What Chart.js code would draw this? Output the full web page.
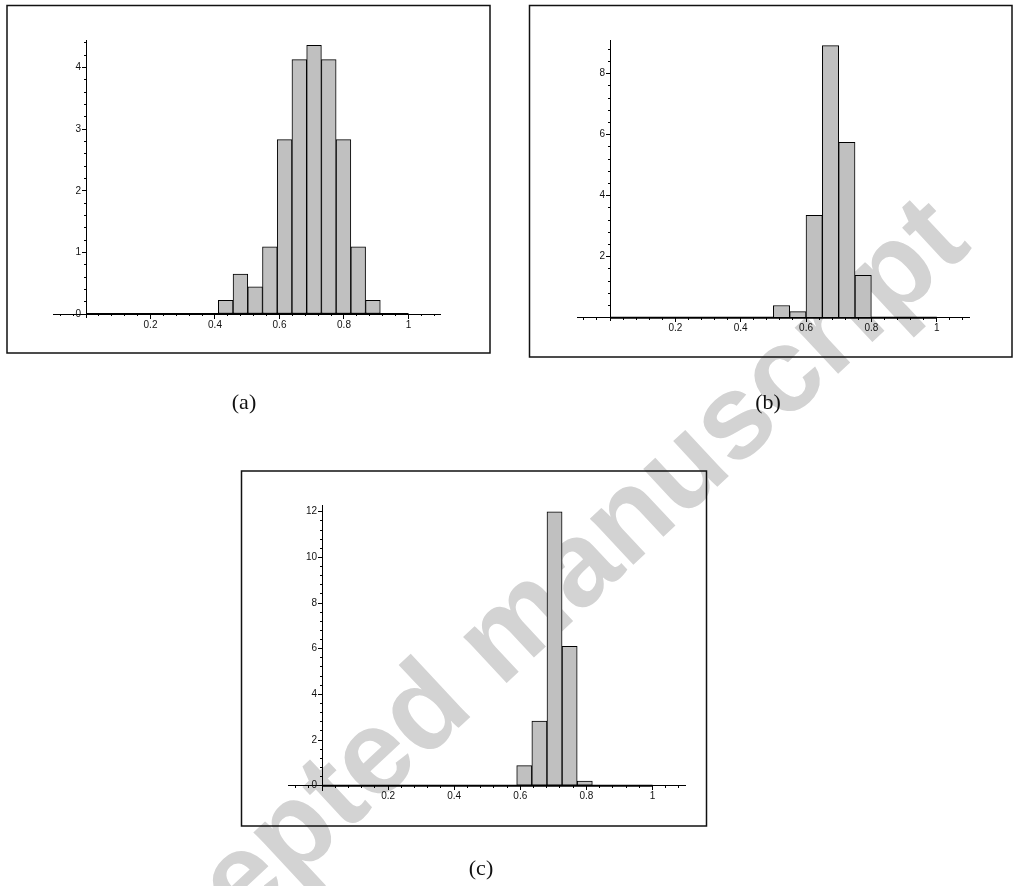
<!DOCTYPE html>
<html>
<head>
<meta charset="utf-8">
<script src="https://cdn.jsdelivr.net/npm/chart.js@4.4.0/dist/chart.umd.min.js"></script>
<style>
    html, body { margin: 0; padding: 0; background: #fff; }
    #page { position: relative; width: 1013px; height: 886px; overflow: hidden; }
    #page svg, #page canvas { position: absolute; left: 0; top: 0; }
    .cap {
        position: absolute;
        font-family: "Liberation Serif", "DejaVu Serif", serif;
        font-size: 22px;
        color: #111;
        transform: translate(-50%, -50%);
    }
</style>
</head>
<body>
<div id="page">
    <svg width="1013" height="886">
        <text x="81" y="1080" transform="rotate(-43 81 1080)" font-family="Liberation Sans, Arial, sans-serif"
              font-weight="bold" font-size="120" fill="#d3d3d3">Accepted manuscript</text>
        <rect x="7" y="5.5" width="483" height="347.5" fill="none" stroke="#111" stroke-width="1.5"/>
        <rect x="529.5" y="5.5" width="482.5" height="351.5" fill="none" stroke="#111" stroke-width="1.5"/>
        <rect x="241.5" y="471" width="465" height="355" fill="none" stroke="#111" stroke-width="1.5"/>
    </svg>
    <canvas id="chartA" width="1013" height="886"></canvas>
    <canvas id="chartB" width="1013" height="886"></canvas>
    <canvas id="chartC" width="1013" height="886"></canvas>
    <div class="cap" style="left:244px; top:402px;">(a)</div>
    <div class="cap" style="left:768px; top:402px;">(b)</div>
    <div class="cap" style="left:481px; top:868px;">(c)</div>
</div>

<script>
// histogram (a)
const binsA = [0.4331, 0.4788, 0.5245, 0.5701, 0.6158, 0.6614, 0.7071, 0.7528, 0.7984, 0.8441, 0.8897];
const valuesA = [0.22, 0.65, 0.44, 1.09, 2.83, 4.13, 4.36, 4.13, 2.83, 1.09, 0.22];
const yTicksA = [0, 1, 2, 3, 4];

// histogram (b)
const binsB = [0.525, 0.575, 0.625, 0.675, 0.725, 0.775];
const valuesB = [0.40, 0.20, 3.36, 8.92, 5.75, 1.39];
const yTicksB = [2, 4, 6, 8];

// histogram (c)
const binsC = [0.6120, 0.6578, 0.7036, 0.7493, 0.7951];
const valuesC = [0.88, 2.83, 12.0, 6.10, 0.20];
const yTicksC = [0, 2, 4, 6, 8, 10, 12];

const xTicks = [0.2, 0.4, 0.6, 0.8, 1];
const histRange = [0, 1];

const PAGE_W = 1013, PAGE_H = 886;
const tickFont = { family: '"Liberation Sans Narrow", "Liberation Sans", Arial, sans-serif', size: 10 };

function steps(from, to, d, skip) {
    const out = [];
    for (let v = from; v <= to + 1e-9; v += d) {
        const r = Math.round(v * 1000) / 1000;
        if (!skip.some(s => Math.abs(s - r) < 1e-6)) out.push(r);
    }
    return out;
}

function noPadding(scale) {
    scale.paddingLeft = 0;
    scale.paddingRight = 0;
    scale.paddingTop = 0;
    scale.paddingBottom = 0;
}

// a y-type axis sitting on x = 0, used for the tick marks (and optionally labels)
function yAxis(g, ticks, tickLen, xPos, showLabels, showBorder) {
    return {
        type: "linear",
        axis: "y",
        min: g.yMin,
        max: g.yMax,
        position: { x: xPos },
        afterBuildTicks: s => { s.ticks = ticks.map(value => ({ value })); },
        afterFit: noPadding,
        grid: { drawOnChartArea: false, drawTicks: tickLen > 0, tickLength: tickLen, tickColor: "#000", tickWidth: 1 },
        border: { display: showBorder, color: "#000", width: 1 },
        ticks: {
            display: showLabels, autoSkip: false, padding: 0, color: "#111", font: tickFont,
            callback: v => String(v),
        },
    };
}

function histogram(id, bins, values, yTicks, yMinorStep, g) {
    // g: pixel geometry of the panel (origin and unit lengths)
    const xMin = -0.1, xMax = 1.1;
    const left = g.x0 + xMin * g.xu;
    const right = g.x0 + xMax * g.xu;
    const top = g.y0 - g.yMax * g.yu;
    const bottom = g.y0 - g.yMin * g.yu;

    const xMinor = steps(-0.08, 1.08, 0.04, xTicks.concat([0]));
    const yMinor = steps(yMinorStep, g.yMax, yMinorStep, yTicks);

    return new Chart(document.getElementById(id), {
        data: {
            datasets: [
                {
                    type: "bar",
                    data: bins.map((x, i) => ({ x, y: values[i] })),
                    backgroundColor: "#c0c0c0",
                    borderColor: "#000",
                    borderWidth: 1,
                    borderSkipped: false,
                    barPercentage: 1,
                    categoryPercentage: 1,
                    xAxisID: "x",
                    yAxisID: "y",
                },
                {
                    type: "line",
                    data: histRange.map(x => ({ x, y: 0 })),
                    borderColor: "#000",
                    borderWidth: 2,
                    pointRadius: 0,
                    xAxisID: "x",
                    yAxisID: "y",
                },
            ],
        },
        options: {
            responsive: false,
            animation: false,
            devicePixelRatio: 1,
            events: [],
            layout: {
                padding: { left, right: PAGE_W - right, top, bottom: PAGE_H - bottom },
            },
            plugins: {
                legend: { display: false },
                tooltip: { enabled: false },
            },
            scales: {
                x: {
                    type: "linear",
                    offset: false,
                    min: xMin,
                    max: xMax,
                    position: { y: 0 },
                    afterBuildTicks: s => { s.ticks = xTicks.map(value => ({ value })); },
                    afterFit: noPadding,
                    grid: { drawOnChartArea: false, offset: false, tickLength: 4, tickColor: "#000", tickWidth: 1 },
                    border: { color: "#000", width: 1 },
                    ticks: {
                        autoSkip: false, maxRotation: 0, padding: 1, color: "#111", font: tickFont,
                        callback: v => String(v),
                    },
                },
                xMinor: {
                    type: "linear",
                    axis: "x",
                    offset: false,
                    min: xMin,
                    max: xMax,
                    position: { y: 0 },
                    afterBuildTicks: s => { s.ticks = xMinor.map(value => ({ value })); },
                    afterFit: noPadding,
                    grid: { drawOnChartArea: false, offset: false, tickLength: 2, tickColor: "#000", tickWidth: 1 },
                    border: { display: false },
                    ticks: { display: false },
                },
                y: yAxis(g, yTicks, 4, 0, false, true),
                yMinor: yAxis(g, yMinor, 2, 0, false, false),
                // labels set 5px left of the axis line
                yLabels: yAxis(g, yTicks, 0, -5 / g.xu, true, false),
            },
        },
    });
}

histogram("chartA", binsA, valuesA, yTicksA, 0.2,
    { x0: 86, xu: 322.5, y0: 314, yu: 61.6, yMin: -0.06, yMax: 4.44 });
histogram("chartB", binsB, valuesB, yTicksB, 0.4,
    { x0: 610, xu: 326.7, y0: 317.7, yu: 30.5, yMin: -0.1, yMax: 9.1 });
histogram("chartC", binsC, valuesC, yTicksC, 0.4,
    { x0: 322, xu: 330.5, y0: 785.7, yu: 22.83, yMin: -0.2, yMax: 12.26 });
</script>
</body>
</html>
